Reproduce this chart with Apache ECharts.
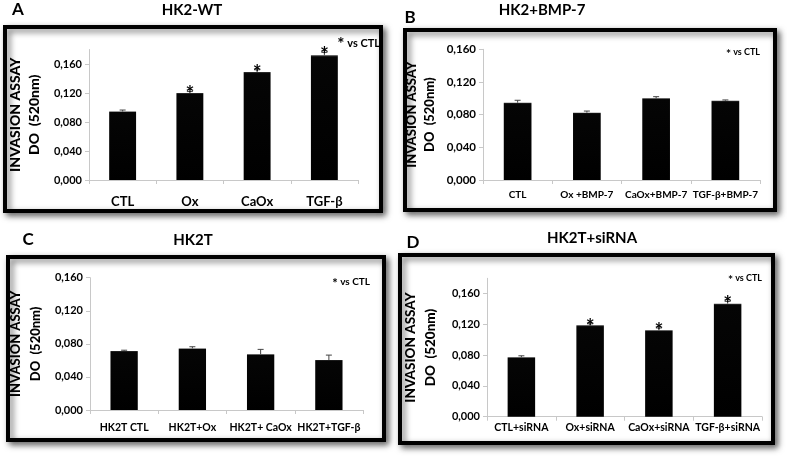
<!DOCTYPE html>
<html>
<head>
<meta charset="utf-8">
<script src="https://cdn.jsdelivr.net/npm/echarts@6/dist/echarts.min.js"></script>
<style>html,body{margin:0;padding:0;background:#fff}#c{width:787px;height:457px}</style>
</head>
<body>
<div id="c"></div>
<script>
// Panel A: HK2-WT
const catsA = ['CTL', 'Ox', 'CaOx', 'TGF-β'];
const valsA = [0.0945, 0.120, 0.149, 0.172];
const errA = [0.002, 0.002, 0.003, 0.004];
const sigA = [false, true, true, true];
// Panel B: HK2+BMP-7
const catsB = ['CTL', 'Ox +BMP-7', 'CaOx+BMP-7', 'TGF-β+BMP-7'];
const valsB = [0.0946, 0.0824, 0.100, 0.097];
const errB = [0.003, 0.002, 0.002, 0.001];
const sigB = [false, false, false, false];
// Panel C: HK2T
const catsC = ['HK2T CTL', 'HK2T+Ox', 'HK2T+ CaOx', 'HK2T+TGF-β'];
const valsC = [0.0713, 0.0745, 0.0673, 0.0604];
const errC = [0.001, 0.002, 0.006, 0.006];
const sigC = [false, false, false, false];
// Panel D: HK2T+siRNA
const catsD = ['CTL+siRNA', 'Ox+siRNA', 'CaOx+siRNA', 'TGF-β+siRNA'];
const valsD = [0.0772, 0.1188, 0.1124, 0.147];
const errD = [0.002, 0.002, 0.003, 0.003];
const sigD = [false, true, true, true];
const yTicks = [0, 0.04, 0.08, 0.12, 0.16];
const yName = 'INVASION ASSAY\nDO  (520nm)';

const FONT = 'Lato';
const chart = echarts.init(document.getElementById('c'), null, {renderer: 'canvas'});

const panels = [
  {cats: catsA, vals: valsA, err: errA, sig: sigA, max: 0.18,
   grid: {left: 89, right: 429, top: 49.5, bottom: 277}, catSize: 13, catMargin: 15, tickSize: 11, nameSize: 14, nameGap: 45, nameLH: 19},
  {cats: catsB, vals: valsB, err: errB, sig: sigB, max: 0.16,
   grid: {left: 483, right: 27, top: 49.3, bottom: 277}, catSize: 10, catMargin: 10, tickSize: 11.5, nameSize: 13, nameGap: 44, nameLH: 18},
  {cats: catsC, vals: valsC, err: errC, sig: sigC, max: 0.16,
   grid: {left: 90, right: 424, top: 277.7, bottom: 47}, catSize: 10.5, catMargin: 12, tickSize: 11, nameSize: 13, nameGap: 44, nameLH: 20},
  {cats: catsD, vals: valsD, err: errD, sig: sigD, max: 0.18,
   grid: {left: 487, right: 25, top: 278.3, bottom: 40.3}, catSize: 10.5, catMargin: 5, tickSize: 11, nameSize: 13.5, nameGap: 46, nameLH: 20}
];

const grids = [], xAxes = [], yAxes = [], series = [];
panels.forEach((p, i) => {
  grids.push(Object.assign({containLabel: false, outerBoundsMode: 'none'}, p.grid));
  xAxes.push({
    type: 'category', gridIndex: i, data: p.cats,
    axisLine: {show: true, lineStyle: {color: '#c8c8c8', width: 1}},
    axisTick: {show: true, length: 4, alignWithLabel: false, lineStyle: {color: '#c8c8c8'}},
    axisLabel: {interval: 0, color: '#000', fontFamily: FONT, fontWeight: 'bold', fontSize: p.catSize, margin: p.catMargin},
    splitLine: {show: false}
  });
  yAxes.push({
    type: 'value', gridIndex: i, min: 0, max: p.max, interval: 0.04,
    axisLine: {show: true, lineStyle: {color: '#c8c8c8', width: 1}},
    axisTick: {show: true, length: 4, lineStyle: {color: '#c8c8c8'}},
    axisLabel: {color: '#000', fontFamily: FONT, fontWeight: 'bold', fontSize: p.tickSize, margin: 7, showMaxLabel: p.max <= 0.16,
      formatter: v => (yTicks.some(t => Math.abs(t - v) < 1e-9) ? v.toFixed(3).replace('.', ',') : '')},
    splitLine: {show: false},
    name: yName, nameLocation: 'middle', nameRotate: 90, nameGap: p.nameGap,
    nameTextStyle: {color: '#000', fontFamily: FONT, fontWeight: 900, fontSize: p.nameSize, lineHeight: p.nameLH, align: 'center'}
  });
  series.push({
    type: 'bar', xAxisIndex: i, yAxisIndex: i, data: p.vals, barWidth: '40%',
    itemStyle: {color: new echarts.graphic.LinearGradient(0, 0, 0, 1, [
      {offset: 0, color: '#3a3a3a'}, {offset: 0.015, color: '#050505'}, {offset: 1, color: '#000'}])},
    label: {show: false}, z: 2
  });
  series.push({
    type: 'custom', xAxisIndex: i, yAxisIndex: i,
    data: p.vals.map((v, k) => [k, v, p.err[k], p.sig[k] ? 1 : 0]),
    renderItem: (params, api) => {
      const x = api.coord([api.value(0), api.value(1)])[0];
      const y0 = api.coord([api.value(0), api.value(1)])[1];
      const y1 = api.coord([api.value(0), api.value(1) + api.value(2)])[1];
      const children = [
        {type: 'line', shape: {x1: x, y1: y0, x2: x, y2: y1}, style: {stroke: '#444', lineWidth: 1}},
        {type: 'line', shape: {x1: x - 3, y1: y1, x2: x + 3, y2: y1}, style: {stroke: '#444', lineWidth: 1}}
      ];
      if (api.value(3)) {
        children.push({type: 'text', x: x, y: y1 + 3, style: {text: '*', fill: '#000', font: 'bold 21px ' + FONT, align: 'center', verticalAlign: 'middle'}});
      }
      return {type: 'group', children: children};
    },
    z: 3
  });
});

function frame(x, y, w, h) {
  return {type: 'rect', z: -10, shape: {x: x, y: y, width: w, height: h},
    style: {fill: '#fff', stroke: '#000', lineWidth: 4, shadowBlur: 6, shadowOffsetX: 3, shadowOffsetY: 3, shadowColor: 'rgba(0,0,0,0.55)'}};
}
function txt(x, y, s, size, align) {
  return {type: 'text', x: x, y: y, z: 10, style: {text: s, fill: '#000', font: 'bold ' + size + 'px ' + FONT, align: align || 'center', verticalAlign: 'middle'}};
}
function note(x, y, size, starSize) {
  return {type: 'text', x: x, y: y, z: 10, style: {
    text: '{s|*} vs CTL', fill: '#000', font: 'bold ' + size + 'px ' + FONT, align: 'right', verticalAlign: 'middle',
    rich: {s: {fontSize: starSize, fontWeight: 'bold', fontFamily: FONT, verticalAlign: 'top', padding: [4, 0, 0, 0]}}}};
}

chart.setOption({
  animation: false,
  backgroundColor: '#fff',
  grid: grids, xAxis: xAxes, yAxis: yAxes, series: series,
  graphic: [
    frame(5, 27, 376, 184), frame(405, 30, 370, 180), frame(8, 257, 376, 183), frame(400, 255, 373, 188),
    txt(18, 10, 'A', 17), txt(192, 10, 'HK2-WT', 15),
    txt(410, 18, 'B', 17), txt(542, 10, 'HK2+BMP-7', 15),
    txt(28, 240, 'C', 17), txt(193, 240, 'HK2T', 15),
    txt(413, 243, 'D', 17), txt(592, 238, 'HK2T+siRNA', 15),
    note(380, 43, 11, 17),
    note(760, 52, 9, 12),
    note(370, 282, 10, 13),
    note(762, 278, 9, 12)
  ]
});
</script>
</body>
</html>
